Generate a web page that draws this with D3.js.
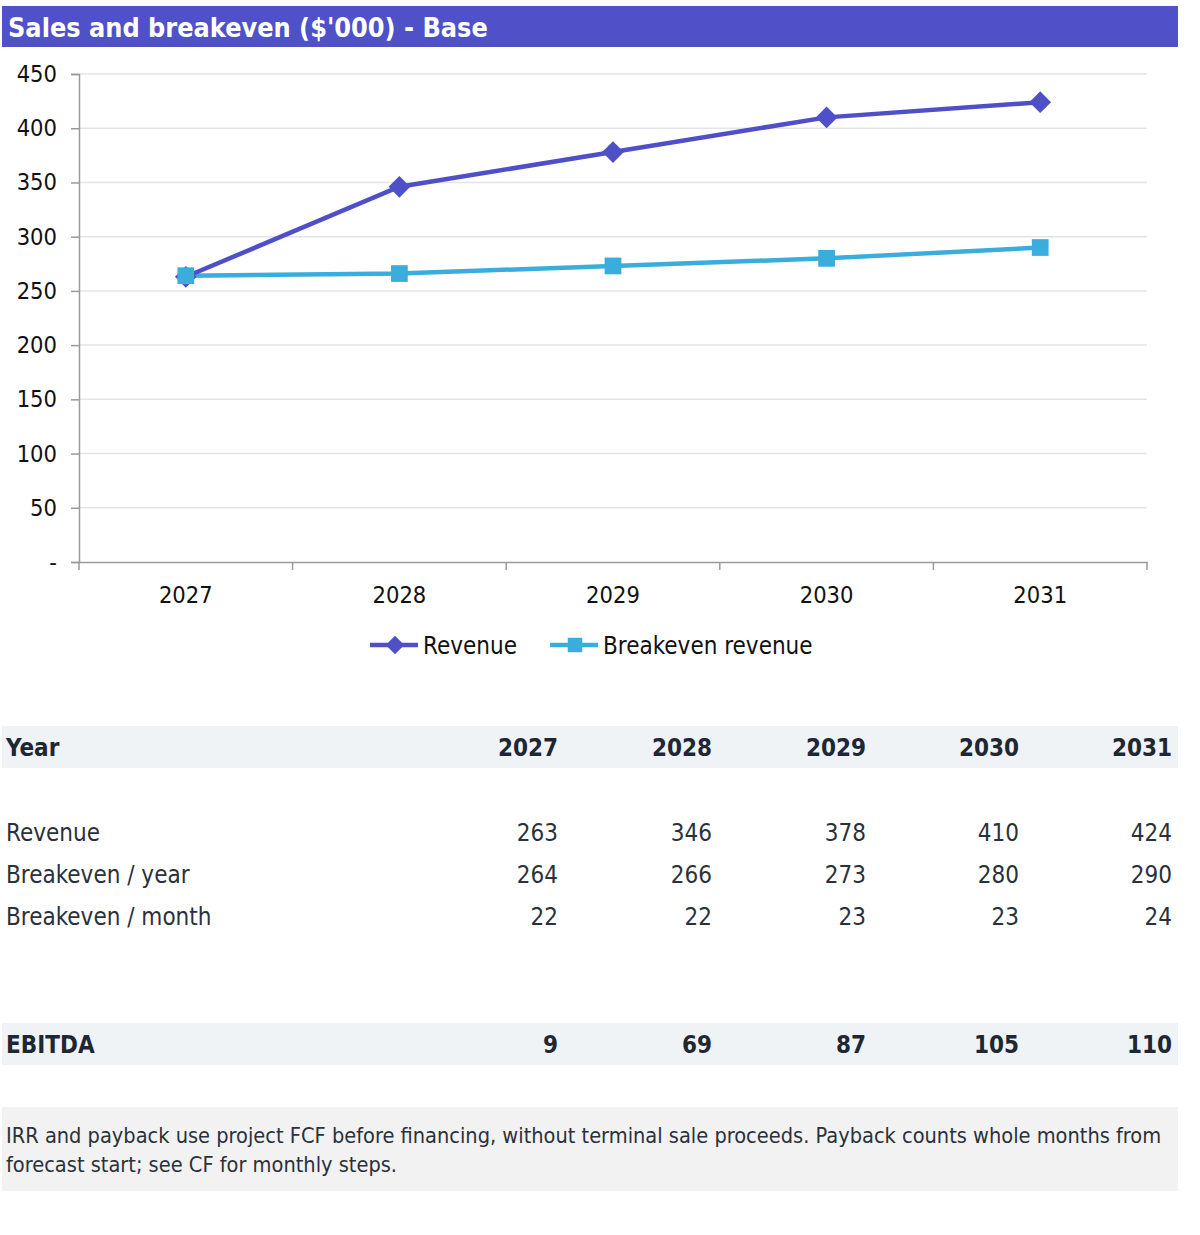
<!DOCTYPE html>
<html><head><meta charset="utf-8">
<script src="https://cdn.jsdelivr.net/npm/d3@7"></script>
<style>
html,body{margin:0;padding:0;background:#fff;}
svg{display:block;}
text{font-family:Tahoma,"DejaVu Sans Condensed","DejaVu Sans",sans-serif;}
</style></head>
<body>
<svg id="c" width="1200" height="1235"></svg>
<script>
const title = "Sales and breakeven ($'000) - Base";
const years = ["2027","2028","2029","2030","2031"];
const revenue = [263,346,378,410,424];
const breakeven = [264,266,273,280,290];
const breakevenMonth = [22,22,23,23,24];
const ebitda = [9,69,87,105,110];
const yTicks = [0,50,100,150,200,250,300,350,400,450];
const seriesNames = ["Revenue","Breakeven revenue"];
const tableRows = [
  {label:"Revenue", values: revenue},
  {label:"Breakeven / year", values: breakeven},
  {label:"Breakeven / month", values: breakevenMonth}
];
const note = ["IRR and payback use project FCF before financing, without terminal sale proceeds. Payback counts whole months from",
              "forecast start; see CF for monthly steps."];

const C_REV = "#4f4fc8", C_BE = "#3aaddc";
const svg = d3.select("#c");

// Title bar
svg.append("rect").attr("x",2).attr("y",6).attr("width",1176).attr("height",41).attr("fill","#5050c8");
svg.append("text").attr("x",8).attr("y",37).attr("fill","#fff").attr("font-weight","bold")
  .attr("font-size",26.8).text(title);

// Chart
const x = d3.scaleBand().domain(years).range([79,1147]);
const y = d3.scaleLinear().domain([0,450]).range([562,74]);

const grid = svg.append("g");
grid.selectAll("line").data(yTicks.filter(d=>d>0)).join("line")
  .attr("x1",79).attr("x2",1147).attr("y1",d=>y(d)).attr("y2",d=>y(d))
  .attr("stroke","#e3e3ec").attr("stroke-width",1.5);

const yAxis = svg.append("g").attr("transform","translate(79,0)")
  .call(d3.axisLeft(y).tickValues(yTicks).tickSize(8).tickPadding(14).tickFormat(d=>d===0?"-":d));
yAxis.select(".domain").attr("stroke","#9a9a9a").attr("stroke-width",1.5);
yAxis.selectAll(".tick line").attr("stroke","#9a9a9a").attr("stroke-width",1.5);
yAxis.selectAll(".tick text").attr("font-size",23.5).attr("fill","#111");

const xAxis = svg.append("g").attr("transform","translate(0,562)")
  .call(d3.axisBottom(x).tickSize(0).tickPadding(24).tickSizeOuter(0));
xAxis.select(".domain").attr("stroke","#9a9a9a").attr("stroke-width",1.5);
xAxis.selectAll(".tick text").attr("font-size",23.5).attr("fill","#111");
// category boundary ticks
const bounds = years.map(d=>x(d)).concat([x(years[years.length-1])+x.bandwidth()]);
svg.append("g").selectAll("line").data(bounds).join("line")
  .attr("x1",d=>d).attr("x2",d=>d).attr("y1",562).attr("y2",570)
  .attr("stroke","#9a9a9a").attr("stroke-width",1.5);

const cx = d => x(d)+x.bandwidth()/2;
const line = d3.line().x((d,i)=>cx(years[i])).y(d=>y(d));

const diamond = d3.symbol().type(d3.symbolDiamond2).size(300);
const square = d3.symbol().type(d3.symbolSquare).size(280);

svg.append("path").datum(breakeven).attr("d",line).attr("fill","none").attr("stroke",C_BE).attr("stroke-width",4.5);
svg.append("path").datum(revenue).attr("d",line).attr("fill","none").attr("stroke",C_REV).attr("stroke-width",4.5);
svg.append("g").selectAll("path").data(revenue).join("path")
  .attr("transform",(d,i)=>`translate(${cx(years[i])},${y(d)})`).attr("d",diamond).attr("fill",C_REV);
svg.append("g").selectAll("path").data(breakeven).join("path")
  .attr("transform",(d,i)=>`translate(${cx(years[i])},${y(d)})`).attr("d",square).attr("fill",C_BE);

// Legend
const leg = [{name:seriesNames[0],c:C_REV,x:370,sym:d3.symbol().type(d3.symbolDiamond2).size(220)},
             {name:seriesNames[1],c:C_BE,x:550,sym:d3.symbol().type(d3.symbolSquare).size(210)}];
const lg = svg.append("g").selectAll("g").data(leg).join("g").attr("transform",d=>`translate(${d.x},645)`);
lg.append("line").attr("x1",0).attr("x2",48).attr("stroke",d=>d.c).attr("stroke-width",4.5);
lg.append("path").attr("transform","translate(25,0)").attr("d",d=>d.sym()).attr("fill",d=>d.c);
lg.append("text").attr("x",53).attr("y",9).attr("font-size",24).attr("fill","#111").text(d=>d.name);

// Table
const colX = [558,712,866,1019,1172];
const T_DARK = "#1f2733", T_REG = "#2a313b";
svg.append("rect").attr("x",2).attr("y",726).attr("width",1176).attr("height",42).attr("fill","#eff3f6");
svg.append("text").attr("x",6).attr("y",756).attr("font-size",24).attr("font-weight","bold").attr("fill",T_DARK).text("Year");
svg.append("g").selectAll("text").data(years).join("text")
  .attr("x",(d,i)=>colX[i]).attr("y",756).attr("text-anchor","end").attr("font-size",24).attr("font-weight","bold").attr("fill",T_DARK).text(d=>d);

const rowY = [841,883,925];
tableRows.forEach((r,ri)=>{
  svg.append("text").attr("x",6).attr("y",rowY[ri]).attr("font-size",24).attr("fill",T_REG).text(r.label);
  svg.append("g").selectAll("text").data(r.values).join("text")
    .attr("x",(d,i)=>colX[i]).attr("y",rowY[ri]).attr("text-anchor","end").attr("font-size",24).attr("fill",T_REG).text(d=>d);
});

svg.append("rect").attr("x",2).attr("y",1023).attr("width",1176).attr("height",42).attr("fill","#eff3f6");
svg.append("text").attr("x",6).attr("y",1053).attr("font-size",24).attr("font-weight","bold").attr("fill",T_DARK).text("EBITDA");
svg.append("g").selectAll("text").data(ebitda).join("text")
  .attr("x",(d,i)=>colX[i]).attr("y",1053).attr("text-anchor","end").attr("font-size",24).attr("font-weight","bold").attr("fill",T_DARK).text(d=>d);

// Note box
svg.append("rect").attr("x",2).attr("y",1107).attr("width",1176).attr("height",84).attr("fill","#f2f2f2");
svg.append("g").selectAll("text").data(note).join("text")
  .attr("x",6).attr("y",(d,i)=>1143+i*29).attr("font-size",21.6).attr("fill","#2a313b").text(d=>d);
</script>
</body></html>
